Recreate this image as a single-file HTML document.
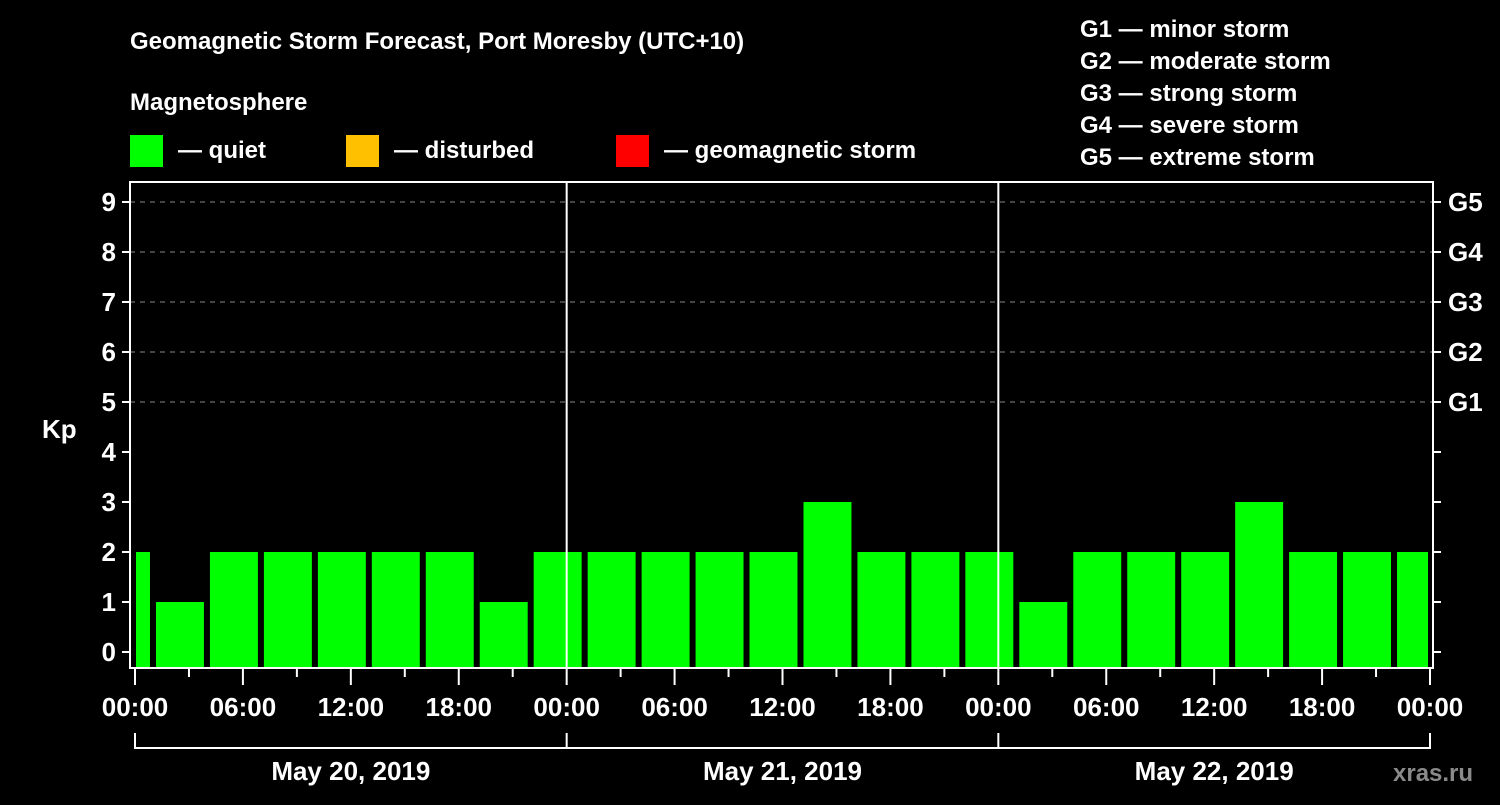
<!DOCTYPE html>
<html><head><meta charset="utf-8"><style>
html,body{margin:0;padding:0;background:#000;}
svg text{font-family:"Liberation Sans",Arial,sans-serif;font-weight:bold;fill:#fff;}
</style></head><body>
<svg id="chart" width="1500" height="800" xmlns="http://www.w3.org/2000/svg">
<rect width="1500" height="800" fill="#000"/>
<text x="130" y="49" font-size="24">Geomagnetic Storm Forecast, Port Moresby (UTC+10)</text>
<text x="130" y="110" font-size="24">Magnetosphere</text>
<g><rect x="130" y="135" width="33" height="32" fill="#00ff00"/><text x="178" y="158" font-size="24">— quiet</text></g>
<g><rect x="346" y="135" width="33" height="32" fill="#ffc000"/><text x="394" y="158" font-size="24">— disturbed</text></g>
<g><rect x="616" y="135" width="33" height="32" fill="#ff0000"/><text x="664" y="158" font-size="24">— geomagnetic storm</text></g>
<g>
<text x="1080" y="37" font-size="24">G1 — minor storm</text>
<text x="1080" y="69" font-size="24">G2 — moderate storm</text>
<text x="1080" y="101" font-size="24">G3 — strong storm</text>
<text x="1080" y="133" font-size="24">G4 — severe storm</text>
<text x="1080" y="165" font-size="24">G5 — extreme storm</text>
</g>
<text x="42" y="438" font-size="26">Kp</text>
<text x="1393" y="781" font-size="24" fill="#888" style="fill:#8a8a8a">xras.ru</text>
<g id="plot"></g>
</svg>
<script>
const kpValues = [2, 1,2,2,2,2,2,1,2, 2,2,2,2,3,2,2,2, 1,2,2,2,3,2,2,2];
const slotStartHours = [-2, 1,4,7,10,13,16,19,22, 25,28,31,34,37,40,43,46, 49,52,55,58,61,64,67,70];
const yTicks = [0,1,2,3,4,5,6,7,8,9];
const gLabels = ["G1","G2","G3","G4","G5"];
const gLevels = [5,6,7,8,9];
const hourLabels = ["00:00","06:00","12:00","18:00"];
const dateLabels = ["May 20, 2019","May 21, 2019","May 22, 2019"];

const NS="http://www.w3.org/2000/svg";
const g=document.getElementById('plot');
const X0=135,X1=1430,H=72,FL=130,FR=1433,FT=182,FB=668;
const xs=h=>X0+(X1-X0)*h/H;
const ys=v=>652-50*v;
function el(t,a){const e=document.createElementNS(NS,t);for(const k in a)e.setAttribute(k,a[k]);g.appendChild(e);return e;}
// gridlines
gLevels.forEach(v=>{
 const l=el('line',{x1:FL,x2:FR,y1:ys(v),y2:ys(v),stroke:'#888','stroke-dasharray':'5,5','stroke-width':1});
 
 
});
// bars
kpValues.forEach((v,i)=>{
 let a=xs(slotStartHours[i])+3,b=xs(slotStartHours[i]+3)-3;
 a=Math.max(a,X0+1);b=Math.min(b,X1-2);
 const r=el('rect',{x:a,y:ys(v),width:b-a,height:FB-1-ys(v),fill:'#00ff00'});
 
 
});
// frame
const fr=el('rect',{x:FL,y:FT,width:FR-FL,height:FB-FT,fill:'none',stroke:'#fff','stroke-width':2});


[1,2].forEach(d=>{const l=el('line',{x1:xs(24*d),x2:xs(24*d),y1:FT,y2:FB,stroke:'#fff','stroke-width':2});
 
 });
// y ticks
yTicks.forEach(v=>{
 el('line',{x1:FL-8,x2:FL,y1:ys(v),y2:ys(v),stroke:'#fff','stroke-width':2});
 el('line',{x1:FR,x2:FR+8,y1:ys(v),y2:ys(v),stroke:'#fff','stroke-width':2});
 const t=el('text',{x:116,y:ys(v)+9,'font-size':26,'text-anchor':'end'});t.textContent=v;
 
 
});
gLabels.forEach((s,i)=>{const t=el('text',{x:1448,y:ys(gLevels[i])+9,'font-size':26});t.textContent=s;
 
 });
// x ticks
for(let h=0;h<=H;h+=3){
 const major=h%6===0;
 el('line',{x1:xs(h),x2:xs(h),y1:FB,y2:FB+(major?17:9),stroke:'#fff','stroke-width':2});
 if(major){const t=el('text',{x:xs(h),y:716,'font-size':26,'text-anchor':'middle'});
  t.textContent=hourLabels[(h/6)%4];
  
  }
}
// date brackets
el('line',{x1:X0,x2:X1,y1:748,y2:748,stroke:'#fff','stroke-width':2});
for(let d=0;d<=3;d++)el('line',{x1:xs(24*d),x2:xs(24*d),y1:733,y2:749,stroke:'#fff','stroke-width':2});
dateLabels.forEach((s,i)=>{const t=el('text',{x:xs(24*i+12),y:780,'font-size':26,'text-anchor':'middle'});t.textContent=s;
 
 });
</script>
</body></html>
